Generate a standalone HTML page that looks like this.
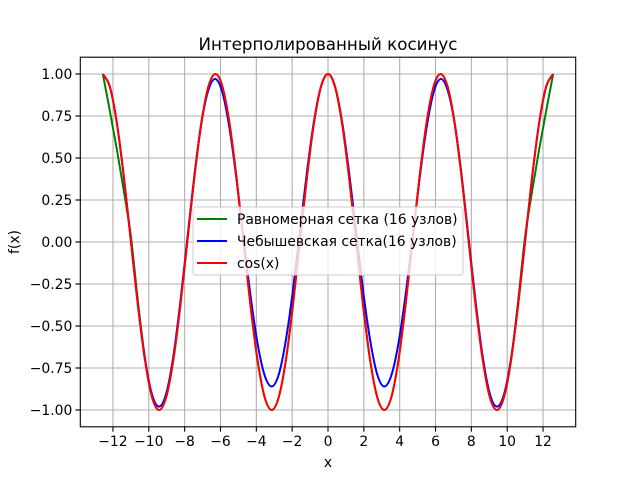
<!DOCTYPE html>
<html><head><meta charset="utf-8"><style>
body{margin:0;background:#fff}
svg text{font-family:"DejaVu Sans","Liberation Sans",sans-serif;fill:#000}
</style></head><body>
<svg id="chart" width="640" height="480" viewBox="0 0 640 480">
<rect width="640" height="480" fill="#fff"/>
<text x="328" y="50" font-size="16.7" text-anchor="middle">Интерполированный косинус</text>
<g id="grid"></g><g id="series"></g><g id="axes"></g>
<text x="328" y="467" font-size="13.9" text-anchor="middle">x</text>
<text transform="translate(19,242) rotate(-90)" font-size="13.9" text-anchor="middle">f(x)</text>
<g>
<rect x="193" y="207" width="270" height="68" rx="3" fill="#fff" fill-opacity="0.8" stroke="#ccc"/>
<line x1="197" y1="219" x2="227" y2="219" stroke="#008000" stroke-width="2"/>
<text x="237" y="224" font-size="13.9">Равномерная сетка (16 узлов)</text>
<line x1="197" y1="241" x2="227" y2="241" stroke="#0000ff" stroke-width="2"/>
<text x="237" y="246" font-size="13.9">Чебышевская сетка(16 узлов)</text>
<line x1="197" y1="263" x2="227" y2="263" stroke="#ff0000" stroke-width="2"/>
<text x="237" y="268" font-size="13.9">cos(x)</text>
</g>
</svg>
<script>
const xTicks=[-12,-10,-8,-6,-4,-2,0,2,4,6,8,10,12];
const yTicks=[-1,-0.75,-0.5,-0.25,0,0.25,0.5,0.75,1];
const sampleIndex=[-32,-31,-30,-29,-28,-27,-26,-25,-24,-23,-22,-21,-20,-19,-18,-17,-16,-15,-14,-13,-12,-11,-10,-9,-8,-7,-6,-5,-4,-3,-2,-1,0,1,2,3,4,5,6,7,8,9,10,11,12,13,14,15,16,17,18,19,20,21,22,23,24,25,26,27,28,29,30,31,32];
const cosValues=[1,.924,.707,.383,0,-.383,-.707,-.924,-1,-.924,-.707,-.383,0,.383,.707,.924,
1,.924,.707,.383,0,-.383,-.707,-.924,-1,-.924,-.707,-.383,0,.383,.707,.924,
1,.924,.707,.383,0,-.383,-.707,-.924,-1,-.924,-.707,-.383,0,.383,.707,.924,
1,.924,.707,.383,0,-.383,-.707,-.924,-1,-.924,-.707,-.383,0,.383,.707,.924,1];
const uniformValues=[1,.78,.55,.30,.03,-.36,-.697,-.924,-1,-.924,-.707,-.383,0,.383,.707,.924,
1,.924,.707,.383,0,-.383,-.707,-.924,-1,-.924,-.707,-.383,0,.383,.707,.924,
1,.924,.707,.383,0,-.383,-.707,-.924,-1,-.924,-.707,-.383,0,.383,.707,.924,
1,.924,.707,.383,0,-.383,-.697,-.924,-1,-.924,-.707,-.36,.03,.30,.55,.78,1];
const chebValues=[1,.924,.707,.383,0,-.378,-.697,-.909,-.98,-.904,-.687,-.363,.015,.393,.707,.904,
.97,.889,.677,.373,.02,-.323,-.607,-.794,-.86,-.789,-.587,-.293,.06,.413,.717,.924,
1,.924,.717,.413,.06,-.293,-.587,-.789,-.86,-.794,-.607,-.323,.02,.373,.677,.889,
.97,.904,.707,.393,.015,-.363,-.687,-.904,-.98,-.909,-.697,-.378,0,.383,.707,.924,1];
const STEP=Math.PI/8;
const L=80.3,R=575.7,T=57.2,B=426.8;
const xMin=-4.4*Math.PI,xMax=4.4*Math.PI,yMin=-1.1,yMax=1.1;
const sx=v=>L+(v-xMin)/(xMax-xMin)*(R-L);
const sy=v=>B-(v-yMin)/(yMax-yMin)*(B-T);
const NS='http://www.w3.org/2000/svg';
function mk(tag,attrs,parent){const e=document.createElementNS(NS,tag);for(const k in attrs)e.setAttribute(k,attrs[k]);parent.appendChild(e);return e;}
const grid=document.getElementById('grid'),axes=document.getElementById('axes'),series=document.getElementById('series');
xTicks.forEach(t=>{const x=sx(t);
 const g=mk('line',{x1:x,x2:x,y1:T,y2:B,stroke:'#b0b0b0','stroke-width':1.1},grid);
 
 
 const tk=mk('line',{x1:x,x2:x,y1:B,y2:B+4.9,stroke:'#000','stroke-width':1.1},axes);
 
 
 const tx=mk('text',{x:x,y:B+19,'font-size':13.9,'text-anchor':'middle'},axes);
 tx.textContent=(t<0?'\u2212'+(-t):String(t));
 
 
});
yTicks.forEach(t=>{const y=sy(t);
 const g=mk('line',{x1:L,x2:R,y1:y,y2:y,stroke:'#b0b0b0','stroke-width':1.1},grid);
 
 
 const tk=mk('line',{x1:L-4.9,x2:L,y1:y,y2:y,stroke:'#000','stroke-width':1.1},axes);
 
 
 const tx=mk('text',{x:L-8,y:y+5,'font-size':13.9,'text-anchor':'end'},axes);
 tx.textContent=(t<0?'\u2212':'')+Math.abs(t).toFixed(2);
 
 
});
const frame=mk('rect',{x:L,y:T,width:R-L,height:B-T,fill:'none',stroke:'#000','stroke-width':1.1},axes);


function smooth(vals){
 const p=vals.map((v,i)=>[sx(sampleIndex[i]*STEP),sy(v)]);
 let d='M'+p[0][0]+','+p[0][1];
 for(let i=0;i<p.length-1;i++){
  const p0=p[Math.max(i-1,0)],p1=p[i],p2=p[i+1],p3=p[Math.min(i+2,p.length-1)];
  const c1=[p1[0]+(p2[0]-p0[0])/6,p1[1]+(p2[1]-p0[1])/6];
  const c2=[p2[0]-(p3[0]-p1[0])/6,p2[1]-(p3[1]-p1[1])/6];
  d+='C'+c1[0]+','+c1[1]+' '+c2[0]+','+c2[1]+' '+p2[0]+','+p2[1];
 }
 return d;
}
const s1=mk('path',{d:smooth(uniformValues),fill:'none',stroke:'#008000','stroke-width':2},series);


const s2=mk('path',{d:smooth(chebValues),fill:'none',stroke:'#0000ff','stroke-width':2},series);


const s3=mk('path',{d:smooth(cosValues),fill:'none',stroke:'#ff0000','stroke-width':2},series);


</script>
</body></html>
